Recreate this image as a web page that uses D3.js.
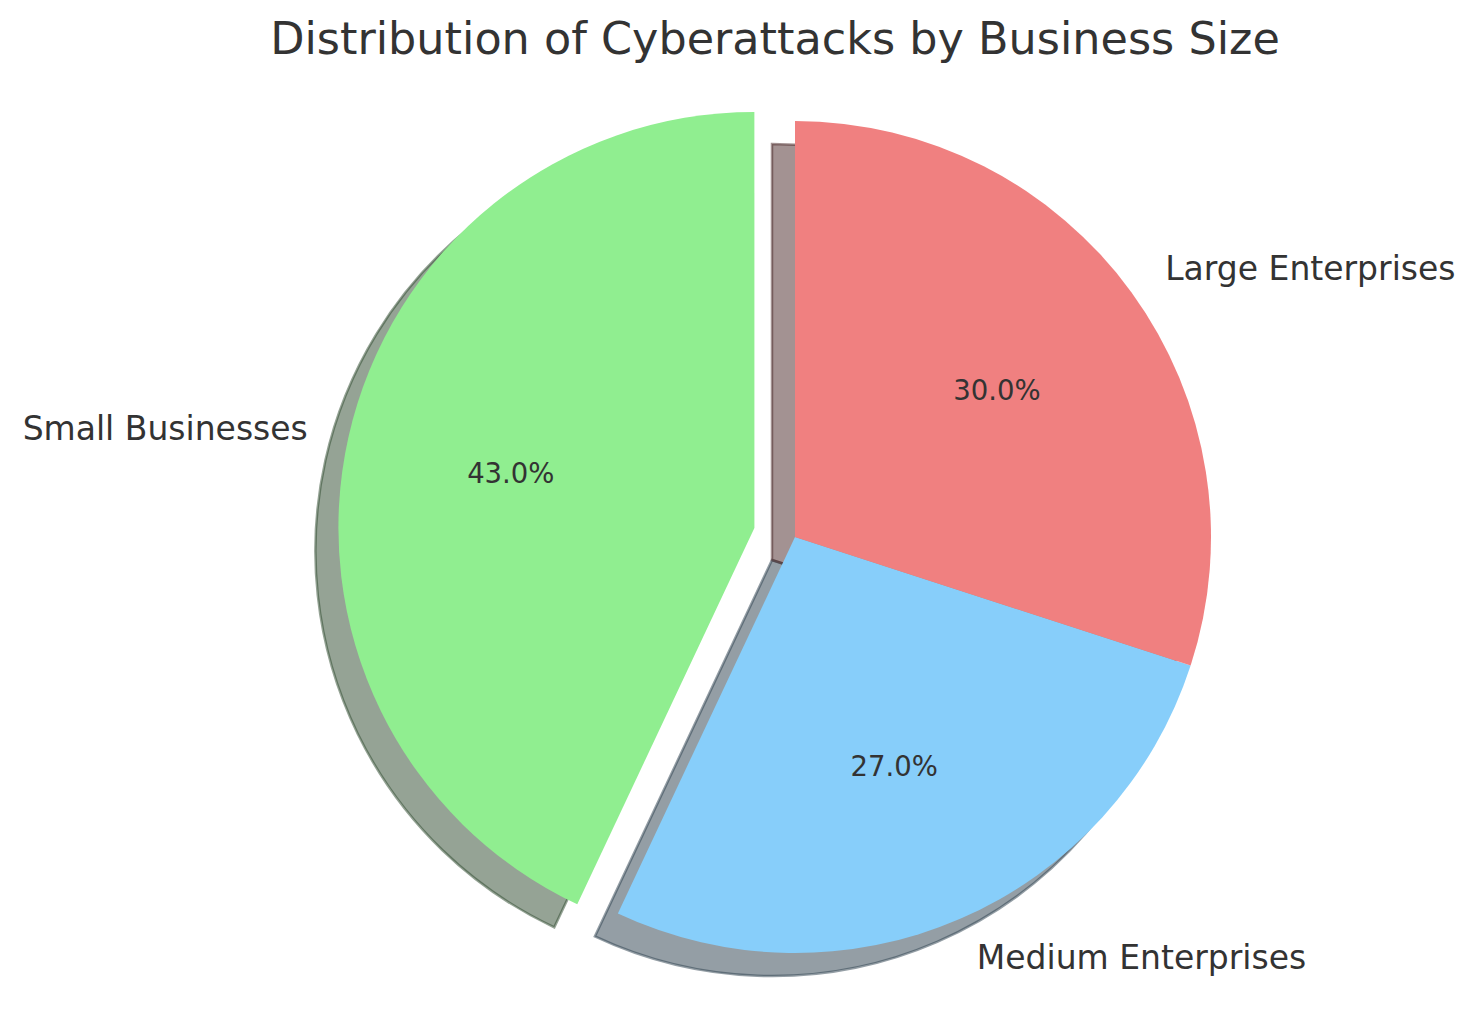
<!DOCTYPE html>
<html>
<head>
<meta charset="utf-8">
<script src="https://cdn.jsdelivr.net/npm/d3@7"></script>
<style>
  html, body { margin: 0; padding: 0; background: #ffffff; }
  svg { display: block; }
  text { font-family: "DejaVu Sans", sans-serif; fill: #333333; }
</style>
</head>
<body>
<svg id="chart" width="1477" height="1014"></svg>
<script>
const categories = ["Small Businesses", "Medium Enterprises", "Large Enterprises"];
const values = [43, 27, 30];
const colors = ["#90EE90", "#87CEFA", "#F08080"];
const explode = [0.1, 0, 0];
const title = "Distribution of Cyberattacks by Business Size";

const W = 1477, H = 1014;
const cx = 795, cy = 537, R = 416;
const shadowOff = { x: -23, y: 23 };

const svg = d3.select("#chart");

// matplotlib: startangle 90, counterclockwise. d3 angles: 0 at top, clockwise.
const pie = d3.pie().sort(null).value(d => d)
  .startAngle(0).endAngle(-2 * Math.PI);
const arcs = pie(values);
const arcGen = d3.arc().innerRadius(0).outerRadius(R);

function offsetFor(a, i) {
  const mid = (a.startAngle + a.endAngle) / 2;
  const e = explode[i] * R;
  return { x: e * Math.sin(mid), y: -e * Math.cos(mid), mid };
}

function shade(c) {
  const col = d3.rgb(c);
  return d3.rgb(col.r * 0.3, col.g * 0.3, col.b * 0.3).toString();
}

const root = svg.append("g");

// shadows first
root.selectAll("path.shadow").data(arcs).enter().append("path")
  .attr("class", "shadow")
  .attr("d", arcGen)
  .attr("transform", (a, i) => {
    const o = offsetFor(a, i);
    return `translate(${cx + o.x + shadowOff.x},${cy + o.y + shadowOff.y})`;
  })
  .attr("fill", (a, i) => shade(colors[i]))
  .attr("fill-opacity", 0.5)
  .attr("stroke", (a, i) => shade(colors[i]))
  .attr("stroke-opacity", 0.5)
  .attr("stroke-width", 2.5)
  .attr("stroke-linejoin", "miter");

// wedges
root.selectAll("path.wedge").data(arcs).enter().append("path")
  .attr("class", "wedge")
  .attr("d", arcGen)
  .attr("transform", (a, i) => {
    const o = offsetFor(a, i);
    return `translate(${cx + o.x},${cy + o.y})`;
  })
  .attr("fill", (a, i) => colors[i]);

// labels
arcs.forEach((a, i) => {
  const o = offsetFor(a, i);
  const ox = cx + o.x, oy = cy + o.y;
  const lx = ox + 1.1 * R * Math.sin(o.mid);
  const ly = oy - 1.1 * R * Math.cos(o.mid);
  root.append("text")
    .attr("x", lx).attr("y", ly)
    .attr("dy", "0.36em")
    .attr("text-anchor", Math.sin(o.mid) < 0 ? "end" : "start")
    .attr("font-size", 33)
    .text(categories[i]);
  const px = ox + 0.6 * R * Math.sin(o.mid);
  const py = oy - 0.6 * R * Math.cos(o.mid);
  const total = d3.sum(values);
  root.append("text")
    .attr("x", px).attr("y", py)
    .attr("dy", "0.36em")
    .attr("text-anchor", "middle")
    .attr("font-size", 27.5)
    .text((values[i] / total * 100).toFixed(1) + "%");
});

svg.append("text")
  .attr("x", 775).attr("y", 54)
  .attr("text-anchor", "middle")
  .attr("font-size", 44.5)
  .text(title);
</script>
</body>
</html>
